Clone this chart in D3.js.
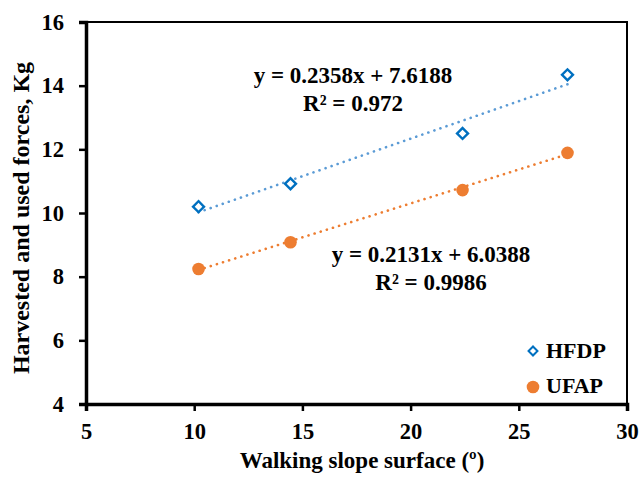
<!DOCTYPE html>
<html>
<head>
<meta charset="utf-8">
<script src="https://cdn.jsdelivr.net/npm/d3@7"></script>
<style>
  body { margin: 0; background: #fff; }
  text { font-family: "Liberation Serif", "Times New Roman", serif; font-weight: bold; fill: #000; }
</style>
</head>
<body>
<svg width="640" height="480"></svg>
<script>
// Data
const slope = [10.2, 14.45, 22.4, 27.25];
const hfdp = [10.2, 10.92, 12.5, 14.34];
const ufap = [8.24, 9.08, 10.72, 11.89];
const seriesNames = ["HFDP", "UFAP"];
const trendHFDP = { slope: 0.2358, intercept: 7.6188, eq: "y = 0.2358x + 7.6188", r2: "R² = 0.972" };
const trendUFAP = { slope: 0.2131, intercept: 6.0388, eq: "y = 0.2131x + 6.0388", r2: "R² = 0.9986" };
const xTicks = [5, 10, 15, 20, 25, 30];
const yTicks = [4, 6, 8, 10, 12, 14, 16];

const margin = { top: 22, right: 13, bottom: 76, left: 86 };
const width = 640 - margin.left - margin.right;
const height = 480 - margin.top - margin.bottom;

const svg = d3.select("svg");
const g = svg.append("g")
  .attr("transform", "translate(" + margin.left + "," + margin.top + ")");

const x = d3.scaleLinear().domain([5, 30]).range([0, width]);
const y = d3.scaleLinear().domain([4, 16]).range([height, 0]);

// plot frame (top and right)
g.append("rect")
  .attr("x", 0).attr("y", 0)
  .attr("width", width).attr("height", height)
  .attr("fill", "none")
  .attr("stroke", "#000")
  .attr("stroke-width", 2);

// Axes
const xAxis = g.append("g")
  .attr("transform", "translate(0," + height + ")")
  .call(d3.axisBottom(x).tickValues(xTicks).tickSize(7).tickPadding(12));
const yAxis = g.append("g")
  .call(d3.axisLeft(y).tickValues(yTicks).tickSize(7).tickPadding(15));

[xAxis, yAxis].forEach(a => {
  a.select(".domain").attr("stroke-width", 3.5).attr("stroke", "#000");
  a.selectAll(".tick line").attr("stroke-width", 2.5).attr("stroke", "#000");
  a.selectAll(".tick text")
    .attr("font-size", 22.5)
    .style("font-family", "'Liberation Serif', 'Times New Roman', serif")
    .style("font-weight", "bold")
    .attr("fill", "#000");
});

// Trend lines
function trendLine(t, color) {
  const x0 = d3.min(slope), x1 = d3.max(slope);
  g.append("line")
    .attr("x1", x(x0)).attr("y1", y(t.slope * x0 + t.intercept))
    .attr("x2", x(x1)).attr("y2", y(t.slope * x1 + t.intercept))
    .attr("stroke", color)
    .attr("stroke-width", 2.6)
    .attr("stroke-linecap", "round")
    .attr("stroke-dasharray", "0.1 6.3");
}
trendLine(trendHFDP, "#5B9BD5");
trendLine(trendUFAP, "#ED7D31");

// Markers
const diamond = d3.symbol().type(d3.symbolSquare).size(60);
g.selectAll(".hfdp")
  .data(slope)
  .join("path")
  .attr("class", "hfdp")
  .attr("d", diamond)
  .attr("transform", (d, i) => "translate(" + x(d) + "," + y(hfdp[i]) + ") rotate(45)")
  .attr("fill", "#fff")
  .attr("stroke", "#0070C0")
  .attr("stroke-width", 2.4);

g.selectAll(".ufap")
  .data(slope)
  .join("circle")
  .attr("class", "ufap")
  .attr("cx", d => x(d))
  .attr("cy", (d, i) => y(ufap[i]))
  .attr("r", 6.3)
  .attr("fill", "#ED7D31");

// Equation labels
function eqLabel(t, cx, by) {
  svg.append("text").attr("x", cx).attr("y", by)
    .attr("text-anchor", "middle").attr("font-size", 23).text(t.eq);
  svg.append("text").attr("x", cx).attr("y", by + 28)
    .attr("text-anchor", "middle").attr("font-size", 23).text(t.r2);
}
eqLabel(trendHFDP, 353, 83);
eqLabel(trendUFAP, 431, 262);

// Legend
const legend = svg.append("g");
legend.append("path")
  .attr("d", d3.symbol().type(d3.symbolSquare).size(40))
  .attr("transform", "translate(533,351) rotate(45)")
  .attr("fill", "#fff")
  .attr("stroke", "#0070C0")
  .attr("stroke-width", 2);
legend.append("circle")
  .attr("cx", 533).attr("cy", 387).attr("r", 6.3)
  .attr("fill", "#ED7D31");
legend.selectAll(".lt")
  .data(seriesNames)
  .join("text")
  .attr("x", 546)
  .attr("y", (d, i) => 358 + i * 35)
  .attr("font-size", 22)
  .text(d => d);

// Axis titles
svg.append("text")
  .attr("x", 362).attr("y", 468)
  .attr("text-anchor", "middle")
  .attr("font-size", 23)
  .text("Walking slope surface (º)");
svg.append("text")
  .attr("transform", "translate(29,218) rotate(-90)")
  .attr("text-anchor", "middle")
  .attr("font-size", 24)
  .text("Harvested and used forces, Kg");
</script>
</body>
</html>
